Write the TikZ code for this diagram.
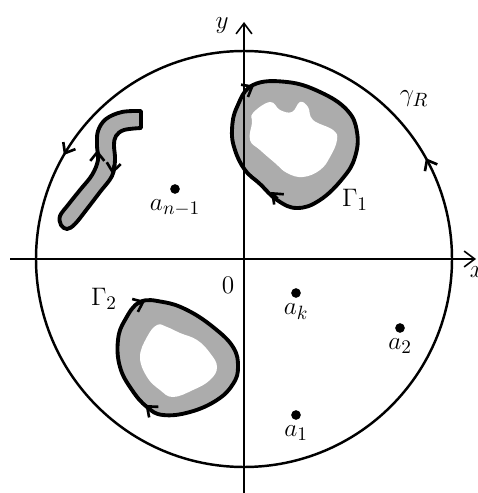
\documentclass[tikz,border=0pt]{standalone}
\usepackage{amsmath}
\usepackage{tikz}
\usetikzlibrary{arrows.meta,positioning}
\definecolor{holegray}{RGB}{172,172,172}
\tikzset{
  rim/.style     ={line width=1.4pt},
  axisline/.style={line width=0.9pt, -{Straight Barb[length=6pt,width=9pt,line width=0.9pt]}},
  hole/.style    ={line width=2.2pt, fill=holegray, line join=round},
  hollow/.style  ={fill=white, draw=none},
  tipmark/.style ={line width=1.2pt, -{Straight Barb[length=5pt,width=8pt,line width=1.5pt]}},
  pt/.style      ={circle, fill=black, inner sep=0pt, minimum size=5.5pt},
  lbl/.style     ={inner sep=1pt}
}

\begin{document}
\begin{tikzpicture}[x=0.02cm, y=-0.02cm, font=\fontsize{15}{18}\selectfont]
\useasboundingbox (0,0) rectangle (477,493);

% gamma_R
\draw[rim] (244,259) circle[radius=208];
\draw[tipmark] (428.3,162.6) -- (425.9,158.2);
\draw[tipmark] (66.4,150.7) -- (63.9,155.0);

% Gamma_1
\draw[hole] plot[smooth cycle, tension=0.7] coordinates {
  (253,85) (287,82) (320,92) (347,110) (357,132) (355,157) (343,178)
  (320,200) (297,208) (277,200) (260,184) (245,170) (235,150) (232,130)
  (237,107)};
\fill[hollow] plot[smooth cycle, tension=0.7] coordinates {
  (253,113) (270,102) (280,110) (292,112) (300,102) (308,107) (313,120)
  (333,130) (337,140) (330,157) (320,170) (303,177) (287,173) (275,163)
  (260,150) (250,140) (252,123)};
\draw[tipmark] (246,90) -- (254,85.5);
\draw[tipmark] (278,198.5) -- (271,192);

% Gamma_2
\draw[hole] plot[smooth cycle, tension=0.7] coordinates {
  (140,302) (163,302) (187,310) (213,327) (233,347) (238,367) (233,384)
  (217,400) (190,412) (163,415) (147,407) (132,390) (120,367) (118,340)
  (125,320)};
\fill[hollow] plot[smooth cycle, tension=0.7] coordinates {
  (147,337) (157,325) (167,327) (180,333) (197,340) (210,353) (217,367)
  (210,380) (193,390) (173,397) (160,390) (147,377) (140,357)};
\draw[tipmark] (136,305) -- (145,301);
\draw[tipmark] (153,411.5) -- (145.5,405);

% slit
\draw[hole] plot[smooth, tension=0.6] coordinates {
  (141,111) (122,112) (106,119) (98,131) (97,146) (98,160) (92,175)
  (80,190) (68,205) (60,216) (61,225) (67,229) (75,224) (87,209)
  (100,192) (112,176) (115,160) (114,145) (116,136) (124,130) (141,128)}
  -- cycle;
\draw[tipmark] (97.3,159) -- (97.3,150);
\draw[tipmark] (113.5,165) -- (112.3,174);

% axes
\draw[axisline] (10,259) -- (476,259);
\draw[axisline] (244,493) -- (244,22);
\node (xlbl) at (477,272) {$x$};
\node (ylbl) at (222,26) {$y$};
\node (zero) at (228,285) {$0$};

% labels
\node (gammaR) at (414,99) {$\gamma_R$};
\node (lblG1) at (355,200) {$\Gamma_1$};
\node (lblG2) at (104,299) {$\Gamma_2$};

% points
\node[pt] (an1) at (175,189) {};
\node[lbl, below=2pt of an1] (an1lbl) {$a_{n-1}$};
\node[pt] (ak) at (296,293) {};
\node[lbl, below=2pt of ak] (aklbl) {$a_k$};
\node[pt] (atwo) at (400,328) {};
\node[lbl, below=2pt of atwo] (atwolbl) {$a_2$};
\node[pt] (aone) at (296,415) {};
\node[lbl, below=2pt of aone] (aonelbl) {$a_1$};
\end{tikzpicture}
\end{document}
